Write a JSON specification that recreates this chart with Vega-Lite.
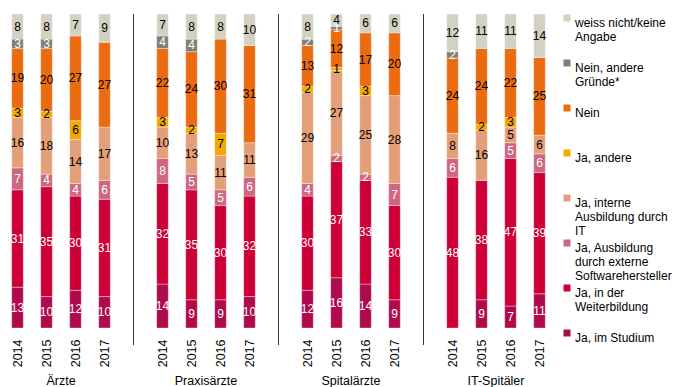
{
  "$schema": "https://vega.github.io/schema/vega-lite/v6.json",
  "width": 551,
  "height": 314,
  "autosize": "none",
  "padding": {"left": 3, "top": 14, "right": 122, "bottom": 59},
  "config": {"font": "Liberation Sans", "view": {"stroke": null}},
  "datasets": {
    "bars": [
      {"bar": "Ärzte|2014", "Ja, im Studium": 13, "Ja, in der Weiterbildung": 31, "Ja, Ausbildung durch externe Softwarehersteller": 7, "Ja, interne Ausbildung durch IT": 16, "Ja, andere": 3, "Nein": 19, "Nein, andere Gründe*": 3, "weiss nicht/keine Angabe": 8},
      {"bar": "Ärzte|2015", "Ja, im Studium": 10, "Ja, in der Weiterbildung": 35, "Ja, Ausbildung durch externe Softwarehersteller": 4, "Ja, interne Ausbildung durch IT": 18, "Ja, andere": 2, "Nein": 20, "Nein, andere Gründe*": 3, "weiss nicht/keine Angabe": 8},
      {"bar": "Ärzte|2016", "Ja, im Studium": 12, "Ja, in der Weiterbildung": 30, "Ja, Ausbildung durch externe Softwarehersteller": 4, "Ja, interne Ausbildung durch IT": 14, "Ja, andere": 6, "Nein": 27, "Nein, andere Gründe*": 0, "weiss nicht/keine Angabe": 7},
      {"bar": "Ärzte|2017", "Ja, im Studium": 10, "Ja, in der Weiterbildung": 31, "Ja, Ausbildung durch externe Softwarehersteller": 6, "Ja, interne Ausbildung durch IT": 17, "Ja, andere": 0, "Nein": 27, "Nein, andere Gründe*": 0, "weiss nicht/keine Angabe": 9},
      {"bar": "Praxisärzte|2014", "Ja, im Studium": 14, "Ja, in der Weiterbildung": 32, "Ja, Ausbildung durch externe Softwarehersteller": 8, "Ja, interne Ausbildung durch IT": 10, "Ja, andere": 3, "Nein": 22, "Nein, andere Gründe*": 4, "weiss nicht/keine Angabe": 7},
      {"bar": "Praxisärzte|2015", "Ja, im Studium": 9, "Ja, in der Weiterbildung": 35, "Ja, Ausbildung durch externe Softwarehersteller": 5, "Ja, interne Ausbildung durch IT": 13, "Ja, andere": 2, "Nein": 24, "Nein, andere Gründe*": 4, "weiss nicht/keine Angabe": 8},
      {"bar": "Praxisärzte|2016", "Ja, im Studium": 9, "Ja, in der Weiterbildung": 30, "Ja, Ausbildung durch externe Softwarehersteller": 5, "Ja, interne Ausbildung durch IT": 11, "Ja, andere": 7, "Nein": 30, "Nein, andere Gründe*": 0, "weiss nicht/keine Angabe": 8},
      {"bar": "Praxisärzte|2017", "Ja, im Studium": 10, "Ja, in der Weiterbildung": 32, "Ja, Ausbildung durch externe Softwarehersteller": 6, "Ja, interne Ausbildung durch IT": 11, "Ja, andere": 0, "Nein": 31, "Nein, andere Gründe*": 0, "weiss nicht/keine Angabe": 10},
      {"bar": "Spitalärzte|2014", "Ja, im Studium": 12, "Ja, in der Weiterbildung": 30, "Ja, Ausbildung durch externe Softwarehersteller": 4, "Ja, interne Ausbildung durch IT": 29, "Ja, andere": 2, "Nein": 13, "Nein, andere Gründe*": 2, "weiss nicht/keine Angabe": 8},
      {"bar": "Spitalärzte|2015", "Ja, im Studium": 16, "Ja, in der Weiterbildung": 37, "Ja, Ausbildung durch externe Softwarehersteller": 2, "Ja, interne Ausbildung durch IT": 27, "Ja, andere": 1, "Nein": 12, "Nein, andere Gründe*": 1, "weiss nicht/keine Angabe": 4},
      {"bar": "Spitalärzte|2016", "Ja, im Studium": 14, "Ja, in der Weiterbildung": 33, "Ja, Ausbildung durch externe Softwarehersteller": 2, "Ja, interne Ausbildung durch IT": 25, "Ja, andere": 3, "Nein": 17, "Nein, andere Gründe*": 0, "weiss nicht/keine Angabe": 6},
      {"bar": "Spitalärzte|2017", "Ja, im Studium": 9, "Ja, in der Weiterbildung": 30, "Ja, Ausbildung durch externe Softwarehersteller": 7, "Ja, interne Ausbildung durch IT": 28, "Ja, andere": 0, "Nein": 20, "Nein, andere Gründe*": 0, "weiss nicht/keine Angabe": 6},
      {"bar": "IT-Spitäler|2014", "Ja, im Studium": 0, "Ja, in der Weiterbildung": 48, "Ja, Ausbildung durch externe Softwarehersteller": 6, "Ja, interne Ausbildung durch IT": 8, "Ja, andere": 0, "Nein": 24, "Nein, andere Gründe*": 2, "weiss nicht/keine Angabe": 12},
      {"bar": "IT-Spitäler|2015", "Ja, im Studium": 9, "Ja, in der Weiterbildung": 38, "Ja, Ausbildung durch externe Softwarehersteller": 0, "Ja, interne Ausbildung durch IT": 16, "Ja, andere": 2, "Nein": 24, "Nein, andere Gründe*": 0, "weiss nicht/keine Angabe": 11},
      {"bar": "IT-Spitäler|2016", "Ja, im Studium": 7, "Ja, in der Weiterbildung": 47, "Ja, Ausbildung durch externe Softwarehersteller": 5, "Ja, interne Ausbildung durch IT": 5, "Ja, andere": 3, "Nein": 22, "Nein, andere Gründe*": 0, "weiss nicht/keine Angabe": 11},
      {"bar": "IT-Spitäler|2017", "Ja, im Studium": 11, "Ja, in der Weiterbildung": 39, "Ja, Ausbildung durch externe Softwarehersteller": 6, "Ja, interne Ausbildung durch IT": 6, "Ja, andere": 0, "Nein": 25, "Nein, andere Gründe*": 0, "weiss nicht/keine Angabe": 14}
    ],
    "cats": [
      {"cat": "Ja, im Studium", "rank": 1},
      {"cat": "Ja, in der Weiterbildung", "rank": 2},
      {"cat": "Ja, Ausbildung durch externe Softwarehersteller", "rank": 3},
      {"cat": "Ja, interne Ausbildung durch IT", "rank": 4},
      {"cat": "Ja, andere", "rank": 5},
      {"cat": "Nein", "rank": 6},
      {"cat": "Nein, andere Gründe*", "rank": 7},
      {"cat": "weiss nicht/keine Angabe", "rank": 8}
    ],
    "seps": [{"g": "Praxisärzte"}, {"g": "Spitalärzte"}, {"g": "IT-Spitäler"}]
  },
  "layer": [
    {
      "data": {"name": "bars"},
      "transform": [
        {"fold": ["Ja, im Studium", "Ja, in der Weiterbildung", "Ja, Ausbildung durch externe Softwarehersteller", "Ja, interne Ausbildung durch IT", "Ja, andere", "Nein", "Nein, andere Gründe*", "weiss nicht/keine Angabe"], "as": ["cat", "v"]},
        {"filter": "datum.v > 0"},
        {"lookup": "cat", "from": {"data": {"name": "cats"}, "key": "cat", "fields": ["rank"]}}
      ],
      "encoding": {
        "x": {
          "field": "bar", "type": "nominal",
          "scale": {"domain": ["Ärzte|2014", "Ärzte|2015", "Ärzte|2016", "Ärzte|2017", "s1", "Praxisärzte|2014", "Praxisärzte|2015", "Praxisärzte|2016", "Praxisärzte|2017", "s2", "Spitalärzte|2014", "Spitalärzte|2015", "Spitalärzte|2016", "Spitalärzte|2017", "s3", "IT-Spitäler|2014", "IT-Spitäler|2015", "IT-Spitäler|2016", "IT-Spitäler|2017"], "paddingInner": 0.6, "paddingOuter": 0.3},
          "axis": {"title": null, "ticks": false, "domain": false, "labelAngle": -90, "labelPadding": 11, "labelFontSize": 12.5, "labelColor": "black", "labelExpr": "indexof(datum.label, '|') > 0 ? split(datum.label, '|')[1] : ''"}
        },
        "y": {"field": "v", "type": "quantitative", "stack": "normalize", "axis": null, "scale": {"domain": [0, 1]}},
        "order": {"field": "rank", "type": "quantitative"}
      },
      "layer": [
        {
          "mark": {"type": "bar", "stroke": "white", "strokeWidth": 0.5, "strokeOpacity": 0.7},
          "encoding": {
            "color": {
              "field": "cat", "type": "nominal",
              "scale": {
                "domain": ["weiss nicht/keine Angabe", "Nein, andere Gründe*", "Nein", "Ja, andere", "Ja, interne Ausbildung durch IT", "Ja, Ausbildung durch externe Softwarehersteller", "Ja, in der Weiterbildung", "Ja, im Studium"],
                "range": ["#D3D1C1", "#7F7F78", "#EB6C10", "#F4A800", "#E39F77", "#CD6680", "#CC0036", "#AF0A4B"]
              },
              "legend": {
                "orient": "none", "legendX": 558, "legendY": -2, "title": null, "padding": 0,
                "symbolType": "square", "symbolSize": 49, "symbolStrokeWidth": 0,
                "labelFontSize": 12, "labelColor": "black", "labelLimit": 200, "labelOffset": 2,
                "labelBaseline": "top", "gridAlign": "all", "rowPadding": 0,
                "labelExpr": "datum.label == 'weiss nicht/keine Angabe' ? ['weiss nicht/keine', 'Angabe'] : datum.label == 'Nein, andere Gründe*' ? ['Nein, andere', 'Gründe*'] : datum.label == 'Ja, interne Ausbildung durch IT' ? ['Ja, interne', 'Ausbildung durch', 'IT'] : datum.label == 'Ja, Ausbildung durch externe Softwarehersteller' ? ['Ja, Ausbildung', 'durch externe', 'Softwarehersteller'] : datum.label == 'Ja, in der Weiterbildung' ? ['Ja, in der', 'Weiterbildung'] : datum.label"
              }
            }
          }
        },
        {
          "mark": {"type": "text", "fontSize": 12},
          "encoding": {
            "y": {"field": "v", "type": "quantitative", "stack": "normalize", "bandPosition": 0.5},
            "detail": {"field": "cat"},
            "text": {"field": "v", "type": "quantitative"},
            "color": {"condition": {"test": "datum.rank >= 4 && datum.rank != 7", "value": "black"}, "value": "white"}
          }
        }
      ]
    },
    {
      "data": {"name": "seps"},
      "mark": {"type": "rule", "xOffset": -14.5, "color": "#333333", "strokeWidth": 1},
      "encoding": {
        "x": {
          "field": "g", "type": "nominal", "bandPosition": 0,
          "scale": {"domain": ["Ärzte", "Praxisärzte", "Spitalärzte", "IT-Spitäler"], "paddingInner": 0.2, "paddingOuter": 0},
          "axis": {"orient": "bottom", "title": null, "ticks": false, "domain": false, "labelAngle": 0, "labelFontSize": 12.5, "labelColor": "black", "labelPadding": 46}
        },
        "y": {"datum": 1, "type": "quantitative", "axis": null},
        "y2": {"datum": -0.054}
      }
    }
  ],
  "resolve": {"scale": {"x": "independent"}, "axis": {"x": "independent"}}
}
